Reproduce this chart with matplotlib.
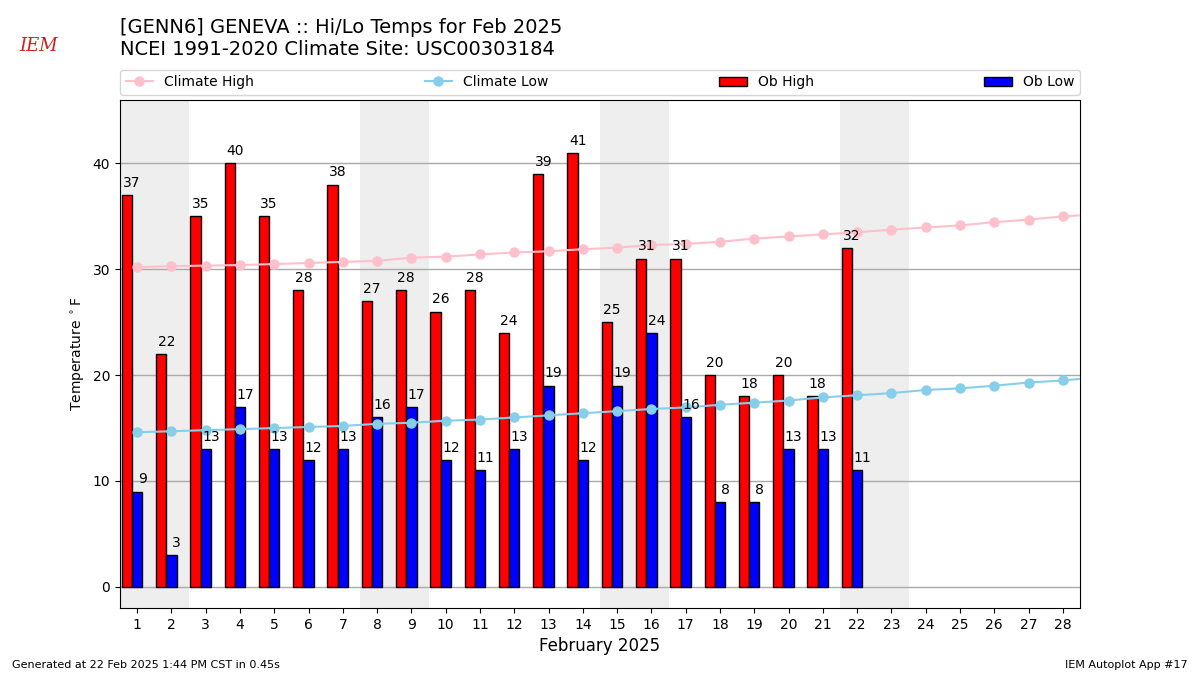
import numpy as np
import matplotlib
matplotlib.use("Agg")
import matplotlib.pyplot as plt

# climate values run one day past the month end (clipped at the axes edge)
days = np.arange(1, 30)
clim_high = [30.2, 30.3, 30.35, 30.4, 30.5, 30.6, 30.7, 30.8, 31.1, 31.2,
             31.4, 31.6, 31.7, 31.9, 32.05, 32.3, 32.4, 32.6, 32.9, 33.1,
             33.3, 33.5, 33.75, 33.95, 34.15, 34.45, 34.7, 35.0, 35.2]
clim_low = [14.6, 14.7, 14.8, 14.9, 15.0, 15.1, 15.2, 15.4, 15.5, 15.7,
            15.8, 16.0, 16.2, 16.4, 16.6, 16.8, 16.95, 17.2, 17.4, 17.6,
            17.9, 18.1, 18.3, 18.6, 18.75, 19.0, 19.3, 19.5, 19.8]
ob_days = np.arange(1, 23)
ob_high = [37, 22, 35, 40, 35, 28, 38, 27, 28, 26, 28, 24, 39, 41, 25, 31,
           31, 20, 18, 20, 18, 32]
ob_low = [9, 3, 13, 17, 13, 12, 13, 16, 17, 12, 11, 13, 19, 12, 19, 24, 16,
          8, 8, 13, 13, 11]
weekends = [1, 8, 15, 22]

fig = plt.figure(figsize=(12, 6.75), dpi=100)
ax = fig.add_axes([0.1, 0.0993, 0.8, 0.7526])

# weekend shading
for d in weekends:
    ax.axvspan(d - 0.5, d + 1.5, color="#EEEEEE", zorder=0, lw=0)

ax.plot(days, clim_high, color="pink", marker="o", ms=6.5, lw=1.5,
        label="Climate High", zorder=3)
ax.plot(days, clim_low, color="skyblue", marker="o", ms=6.5, lw=1.5,
        label="Climate Low", zorder=3)

ax.bar(ob_days - 0.3, ob_high, width=0.3, color="r", edgecolor="k",
       label="Ob High", zorder=2)
ax.bar(ob_days, ob_low, width=0.3, color="b", edgecolor="k",
       label="Ob Low", zorder=2)
for d, h, l in zip(ob_days, ob_high, ob_low):
    ax.text(d - 0.15, h + 0.5, "%.0f" % h, ha="center", va="bottom",
            fontsize=10, zorder=4)
    ax.text(d + 0.15, l + 0.5, "%.0f" % l, ha="center", va="bottom",
            fontsize=10, zorder=4)

ax.set_xlim(0.5, 28.5)
ax.set_ylim(-2, 46)
ax.set_xticks(np.arange(1, 29))
ax.set_yticks([0, 10, 20, 30, 40])
ax.yaxis.grid(True, color="#aaaaaa", lw=1)
ax.set_axisbelow(True)
ax.set_ylabel(r"Temperature $^\circ$F")
ax.set_xlabel("February 2025", fontsize=12)

ax.legend(bbox_to_anchor=(0, 1.01, 1, 0.05), loc="lower left",
          mode="expand", ncol=4, borderaxespad=0)

fig.text(0.1, 0.945, "[GENN6] GENEVA :: Hi/Lo Temps for Feb 2025",
         fontsize=14, va="bottom")
fig.text(0.1, 0.912, "NCEI 1991-2020 Climate Site: USC00303184",
         fontsize=14, va="bottom")

# logo stand-in
fig.text(0.032, 0.925, "IEM", color="#cc2222", fontsize=13,
         family="serif", style="italic", ha="center")

fig.text(0.01, 0.01, "Generated at 22 Feb 2025 1:44 PM CST in 0.45s",
         fontsize=8)
fig.text(0.99, 0.01, "IEM Autoplot App #17", fontsize=8, ha="right")

fig.savefig("out.png", dpi=100)
